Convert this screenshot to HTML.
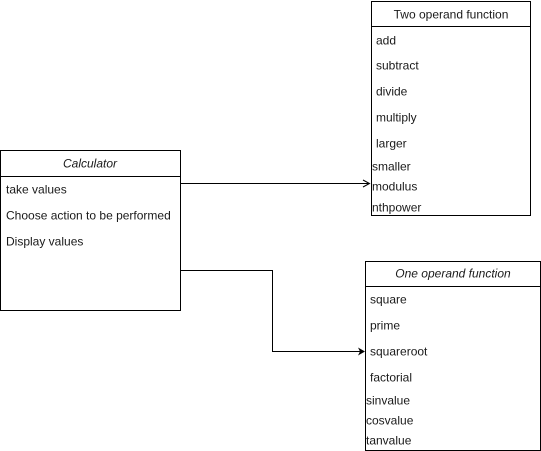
<!DOCTYPE html>
<html><head><meta charset="utf-8"><style>
html,body{margin:0;padding:0;background:#fff;}
svg{display:block}
text{font-family:"Liberation Sans",Arial,sans-serif;font-size:12px;fill:#1a1a1a;dominant-baseline:middle}
</style></head><body>
<svg width="541" height="451" viewBox="0 0 541 451" xmlns="http://www.w3.org/2000/svg">
<rect width="541" height="451" fill="#fff"/>
<g fill="none" stroke="#000" stroke-width="1">
<rect x="0.5" y="150.5" width="180" height="160"/>
<line x1="0.5" y1="176.5" x2="180.5" y2="176.5"/>
<rect x="371.5" y="1.5" width="159" height="214"/>
<line x1="371.5" y1="26.5" x2="530.5" y2="26.5"/>
<rect x="365.5" y="261.5" width="175" height="189"/>
<line x1="365.5" y1="286.5" x2="540.5" y2="286.5"/>
<line x1="180.5" y1="183.5" x2="369" y2="183.5"/>
<polyline points="363,180 369.5,183.5 363,187"/>
<polyline points="180.5,270.5 272.5,270.5 272.5,351.5 360,351.5"/>
</g>
<polygon points="358,347.5 365,351.5 358,355.5 360,351.5" fill="#000"/>
<g transform="translate(0,1.5)">
<text x="90" y="163" text-anchor="middle" font-style="italic">Calculator</text>
<text x="6" y="189">take values</text>
<text x="6" y="215">Choose action to be performed</text>
<text x="6" y="241">Display values</text>
<text x="451" y="14" text-anchor="middle">Two operand function</text>
<text x="376" y="40">add</text>
<text x="376" y="65">subtract</text>
<text x="376" y="91">divide</text>
<text x="376" y="117">multiply</text>
<text x="376" y="143">larger</text>
<text x="372" y="166">smaller</text>
<text x="372" y="186">modulus</text>
<text x="372" y="207">nthpower</text>
<text x="453" y="273" text-anchor="middle" font-style="italic">One operand function</text>
<text x="370" y="299">square</text>
<text x="370" y="325">prime</text>
<text x="370" y="351">squareroot</text>
<text x="370" y="377">factorial</text>
<text x="366" y="400">sinvalue</text>
<text x="366" y="420">cosvalue</text>
<text x="366" y="440">tanvalue</text>
</g>
</svg>
</body></html>
